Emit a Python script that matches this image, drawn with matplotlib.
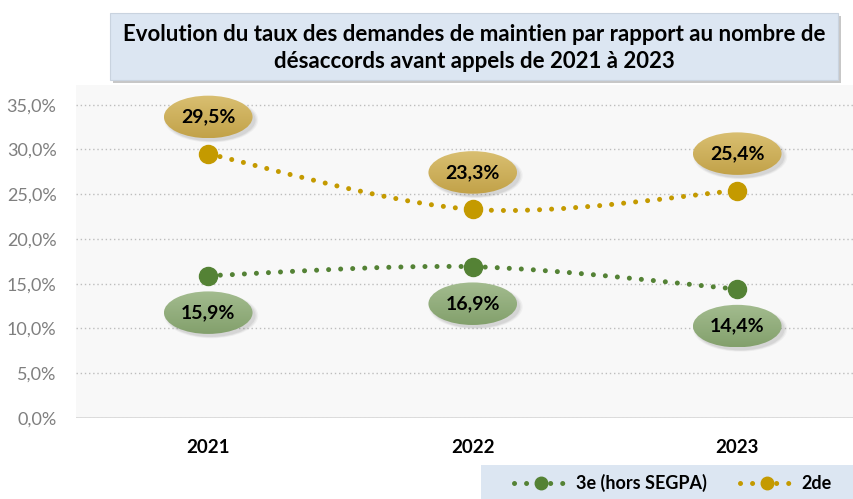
import numpy as np
import matplotlib
matplotlib.use('Agg')
import matplotlib.pyplot as plt
from matplotlib.path import Path
from matplotlib.patches import PathPatch, Ellipse, Rectangle
from matplotlib.lines import Line2D
from matplotlib.transforms import offset_copy

plt.rcParams['font.family'] = ['Lato', 'DejaVu Sans']

# data
years = ['2021', '2022', '2023']
serie_3e = [15.9, 16.9, 14.4]
serie_2de = [29.5, 23.3, 25.4]
series_names = ['3e (hors SEGPA)', '2de']
y_ticks = [0, 5, 10, 15, 20, 25, 30, 35]
y_tick_labels = ['0,0%', '5,0%', '10,0%', '15,0%', '20,0%', '25,0%', '30,0%', '35,0%']
title = ("Evolution du taux des demandes de maintien par rapport au nombre de\n"
         "désaccords avant appels de 2021 à 2023")

green = '#548235'
gold = '#c49a00'

W, H = 854, 499
fig = plt.figure(figsize=(W / 100, H / 100), dpi=100)
ax = fig.add_axes([76 / W, 81 / H, (W - 76) / W, 333 / H])
ax.set_facecolor('#f8f8f8')
for s in ax.spines.values():
    s.set_visible(False)

x = np.arange(len(years))


def smooth_path(xs, ys):
    # Bezier segments like a spreadsheet "smoothed line"
    pts = np.column_stack([xs, ys]).astype(float)
    n = len(pts)
    verts = [pts[0]]
    codes = [Path.MOVETO]
    for i in range(n - 1):
        p0 = pts[max(i - 1, 0)]
        p1 = pts[i]
        p2 = pts[i + 1]
        p3 = pts[min(i + 2, n - 1)]
        c1 = p1 + (p2 - p0) / 6
        c2 = p2 - (p3 - p1) / 6
        verts += [c1, c2, p2]
        codes += [Path.CURVE4] * 3
    return Path(verts, codes)


dots = (0, (0.01, 2.4))
for vals, col in [(serie_3e, green), (serie_2de, gold)]:
    ax.add_patch(PathPatch(smooth_path(x, vals), fill=False, edgecolor=col,
                           lw=3.6, linestyle=dots, capstyle='round', zorder=3))
    ax.plot(x, vals, 'o', color=col, ms=13, mec=col, zorder=4)


def label_ellipse(xc, yv, dy_px, top, bottom):
    tr = offset_copy(ax.transData, fig=fig, x=0, y=dy_px, units='dots')
    sh = offset_copy(ax.transData, fig=fig, x=3, y=dy_px - 3, units='dots')
    w, h = 0.335, 4.75
    for k, a in enumerate([0.10, 0.08, 0.06]):
        ax.add_patch(Ellipse((xc, yv), w + 0.01 * k, h + 0.15 * k, transform=sh,
                             facecolor='#606060', edgecolor='none', alpha=a, zorder=5))
    el = Ellipse((xc, yv), w, h, transform=tr, facecolor='none', edgecolor='none', zorder=6)
    ax.add_patch(el)
    grad = np.linspace(0, 1, 64)[:, None, None]
    c_top = np.array(matplotlib.colors.to_rgb(top))
    c_bot = np.array(matplotlib.colors.to_rgb(bottom))
    img = c_top * (1 - grad) + c_bot * grad
    im = ax.imshow(img, extent=(xc - w / 2, xc + w / 2, yv - h / 2, yv + h / 2),
                   origin='upper', transform=tr, aspect='auto', zorder=6,
                   interpolation='bilinear')
    im.set_clip_path(el)
    txt = f"{yv:.1f}".replace('.', ',') + '%'
    ax.text(xc, yv, txt, transform=tr, ha='center', va='center', fontsize=14,
            fontweight='bold', color='black', zorder=7)


for xi, v in zip(x, serie_2de):
    label_ellipse(xi, v, 37, '#d9bf72', '#c2a248')
for xi, v in zip(x, serie_3e):
    label_ellipse(xi, v, -37, '#a3bc8f', '#83a06c')

ax.set_xlim(-0.5, -0.5 + (W - 76) / 264.5)
ax.set_ylim(0, 37.2)
ax.set_yticks(y_ticks)
ax.set_yticklabels(y_tick_labels, color='#7f7f7f', fontsize=13)
ax.set_xticks(x)
ax.set_xticklabels(years, fontweight='bold', fontsize=13.5, color='black')
ax.tick_params(axis='y', length=0, pad=14)
ax.tick_params(axis='x', length=0, pad=15)
ax.yaxis.grid(True, color='#bdbdbd', linestyle=(0, (1, 2)), lw=1.0)
ax.set_axisbelow(True)
ax.axhline(0, color='#d9d9d9', lw=2, zorder=2)

# title box with shadow
fig.patches.append(Rectangle((113 / W, 1 - 83 / H), 728 / W, 67 / H, transform=fig.transFigure,
                             facecolor='#9a9a9a', edgecolor='none', alpha=0.55, zorder=8))
fig.patches.append(Rectangle((110 / W, 1 - 80 / H), 728 / W, 67 / H, transform=fig.transFigure,
                             facecolor='#dce6f2', edgecolor='#c9d3df', lw=0.8, zorder=9))
fig.text(474 / W, 1 - 48 / H, title, ha='center', va='center', fontsize=16,
         fontweight='bold', color='black', linespacing=1.4, zorder=10)

# legend strip
fig.patches.append(Rectangle((481 / W, 0), (W - 481) / W, 34 / H, transform=fig.transFigure,
                             facecolor='#dce6f2', edgecolor='none', zorder=1))
handles = [Line2D([0], [0], color=c, lw=3.6, linestyle=dots, dash_capstyle='round',
                  marker='o', ms=9, mec=c, mfc=c) for c in (green, gold)]
fig.legend(handles, series_names, loc='center', bbox_to_anchor=(673 / W, 16 / H),
           ncol=2, frameon=False, handlelength=3.05, handletextpad=0.4,
           columnspacing=1.8, prop={'weight': 'bold', 'size': 13})

fig.savefig('out.png', dpi=100)
